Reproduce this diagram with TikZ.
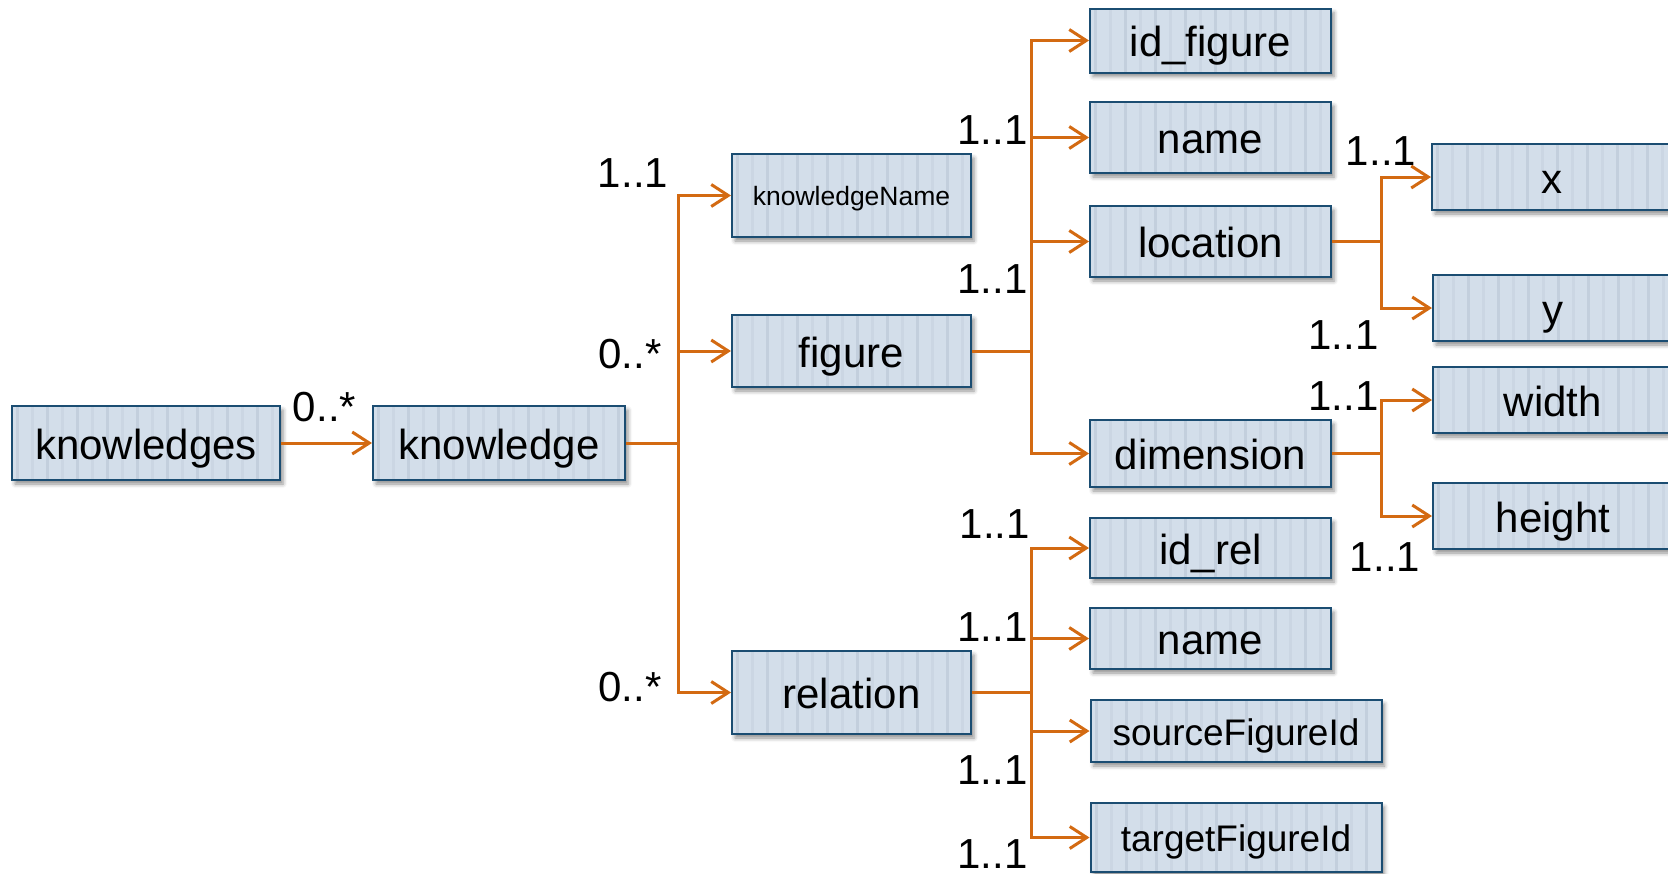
\documentclass[tikz,border=0pt]{standalone}
\usepackage{fontspec}
\setmainfont{Liberation Sans}
\usetikzlibrary{arrows.meta,shadows.blur}
\definecolor{boxfill}{HTML}{D3DEEA}
\definecolor{stripeA}{HTML}{C3CFDD}
\definecolor{stripeB}{HTML}{CBD6E3}
\definecolor{boxline}{HTML}{1B4D72}
\definecolor{link}{HTML}{D36A12}

% invisible strut that gives every box label the same line box
\newcommand\boxstrut{\rule[-0.21em]{0pt}{1.2em}}

\tikzset{
  box/.style={draw=boxline, line width=2pt, fill=boxfill, inner sep=0pt,
    font=\fontsize{42}{48}\selectfont,
    execute at begin node=\boxstrut,
    blur shadow={shadow xshift=3pt, shadow yshift=-4pt,
                 shadow blur radius=4pt, shadow opacity=45},
    path picture={
      \foreach \k in {0,30,...,330}
        \fill[stripeA] ([xshift=\k pt+4pt]path picture bounding box.north west)
          rectangle ([xshift=\k pt+7pt]path picture bounding box.south west);
      \foreach \k in {15,45,...,345}
        \fill[stripeB] ([xshift=\k pt+4pt]path picture bounding box.north west)
          rectangle ([xshift=\k pt+7pt]path picture bounding box.south west);
    }},
  conn/.style={draw=link, line width=3pt},
  arr/.style={conn, -{Straight Barb[length=17pt, width=22pt]}},
  lbl/.style={inner sep=0pt, font=\fontsize{42}{48}\selectfont},
}

\begin{document}
\begin{tikzpicture}[x=1pt, y=-1pt]
  \useasboundingbox (0,0) rectangle (1668,873);
  \clip (0,0) rectangle (1668,873);

  % boxes
  \node[box, minimum width=268pt, minimum height=74pt] (kns) at (146,443) {knowledges};
  \node[box, minimum width=252pt, minimum height=74pt] (kn) at (499,443) {knowledge};
  \node[box, minimum width=239pt, minimum height=83pt,
        font=\fontsize{26.5}{30}\selectfont] (kname) at (851.5,195.5) {knowledgeName};
  \node[box, minimum width=239pt, minimum height=72pt] (fig) at (851.5,351) {figure};
  \node[box, minimum width=239pt, minimum height=83pt] (rel) at (851.5,692.5) {relation};

  \node[box, minimum width=241pt, minimum height=64pt] (idf) at (1210.5,40.5) {id\_figure};
  \node[box, minimum width=241pt, minimum height=71pt] (fname) at (1210.5,137.5) {name};
  \node[box, minimum width=241pt, minimum height=71pt] (loc) at (1210.5,241.5) {location};
  \node[box, minimum width=241pt, minimum height=67pt] (dim) at (1210.5,453.5) {dimension};

  \node[box, minimum width=240pt, minimum height=66pt] (bx) at (1552,177) {x};
  \node[box, minimum width=240pt, minimum height=66pt] (by) at (1553,308) {y};
  \node[box, minimum width=240pt, minimum height=66pt] (bw) at (1553,400) {width};
  \node[box, minimum width=240pt, minimum height=66pt] (bh) at (1553,516) {height};

  \node[box, minimum width=241pt, minimum height=60pt] (idr) at (1210.5,548) {id\_rel};
  \node[box, minimum width=241pt, minimum height=61pt] (rname) at (1210.5,638.5) {name};
  \node[box, minimum width=291pt, minimum height=62pt,
        font=\fontsize{37}{42}\selectfont] (src) at (1236,731) {sourceFigureId};
  \node[box, minimum width=291pt, minimum height=69pt,
        font=\fontsize{37}{42}\selectfont] (tgt) at (1236,837.5) {targetFigureId};

  % junction points of the connector trees
  \coordinate (j1) at (678,443);
  \coordinate (j2) at (1031,351);
  \coordinate (j3) at (1381,241.5);
  \coordinate (j4) at (1381,453.5);
  \coordinate (j5) at (1031,692.5);

  % connectors
  \draw[arr] (kns.east) -- (kn.west);

  \draw[conn] (kn.east) -- (j1);
  \draw[arr] (j1) |- (kname.west);
  \draw[arr] (j1) |- (fig.west);
  \draw[arr] (j1) |- (rel.west);

  \draw[conn] (fig.east) -- (j2);
  \draw[arr] (j2) |- (idf.west);
  \draw[arr] (j2) |- (fname.west);
  \draw[arr] (j2) |- (loc.west);
  \draw[arr] (j2) |- (dim.west);

  \draw[conn] (loc.east) -- (j3);
  \draw[arr] (j3) |- (bx.west);
  \draw[arr] (j3) |- (by.west);

  \draw[conn] (dim.east) -- (j4);
  \draw[arr] (j4) |- (bw.west);
  \draw[arr] (j4) |- (bh.west);

  \draw[conn] (rel.east) -- (j5);
  \draw[arr] (j5) |- (idr.west);
  \draw[arr] (j5) |- (rname.west);
  \draw[arr] (j5) |- (src.west);
  \draw[arr] (j5) |- (tgt.west);

  % multiplicities
  \node[lbl] (m1) at (324.5,407) {0..*};
  \node[lbl] (m2) at (633,173) {1..1};
  \node[lbl] (m3) at (630,354) {0..*};
  \node[lbl] (m4) at (630,687) {0..*};
  \node[lbl] (m5) at (992.5,130) {1..1};
  \node[lbl] (m6) at (992.5,279) {1..1};
  \node[lbl] (m7) at (1381,151) {1..1};
  \node[lbl] (m8) at (1343.5,335) {1..1};
  \node[lbl] (m9) at (1343.5,396) {1..1};
  \node[lbl] (m10) at (1385,557.5) {1..1};
  \node[lbl] (m11) at (994.7,524.5) {1..1};
  \node[lbl] (m12) at (992.5,626.6) {1..1};
  \node[lbl] (m13) at (992.5,770) {1..1};
  \node[lbl] (m14) at (992.5,854) {1..1};
\end{tikzpicture}
\end{document}
